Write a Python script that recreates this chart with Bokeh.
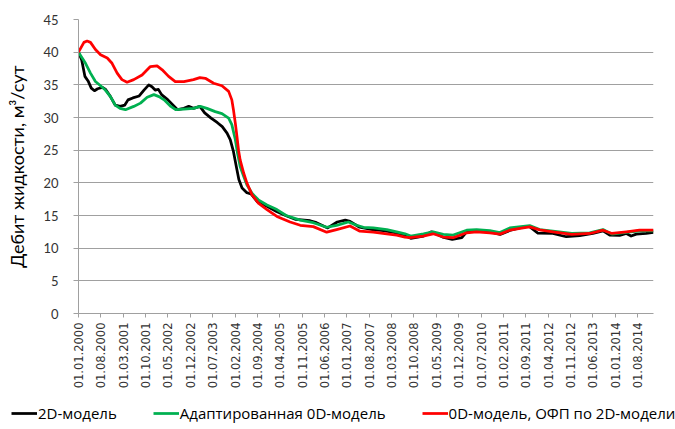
from math import pi
from bokeh.plotting import figure
from bokeh.layouts import column, row
from bokeh.models import Range1d, FixedTicker, Legend, LegendItem
from bokeh.embed import file_html
from bokeh.resources import INLINE

# ---- data (months since 01.01.2000) ----
tick_months = [0, 7, 14, 21, 28, 35, 42, 49, 56, 63, 70, 77, 84, 91, 98, 105,
               112, 119, 126, 133, 140, 147, 154, 161, 168, 175]
tick_labels = ["01.01.2000", "01.08.2000", "01.03.2001", "01.10.2001", "01.05.2002",
               "01.12.2002", "01.07.2003", "01.02.2004", "01.09.2004", "01.04.2005",
               "01.11.2005", "01.06.2006", "01.01.2007", "01.08.2007", "01.03.2008",
               "01.10.2008", "01.05.2009", "01.12.2009", "01.07.2010", "01.02.2011",
               "01.09.2011", "01.04.2012", "01.11.2012", "01.06.2013", "01.01.2014",
               "01.08.2014"]
y_ticks = [0, 5, 10, 15, 20, 25, 30, 35, 40, 45]

black_m = [0, 1, 2, 3, 4, 5, 6, 7.5, 8.5, 10, 11.5, 13, 14.5, 15.5, 17, 19, 20.5, 22,
           23, 24, 25, 26, 28, 30, 31, 33, 34.5, 36, 38, 39.5, 41.5, 43.5, 45, 46.5,
           47.5, 48.5, 49.4, 50.2, 51.2, 52.7, 54, 56, 59, 62, 65, 68, 72.5, 74.5, 78,
           81, 83.5, 85, 88, 92, 95.5, 99.5, 102, 104, 108, 110.5, 114, 117, 120,
           121.5, 124.5, 129, 132, 135, 139, 141, 143.8, 148.5, 152.7, 156.9, 161,
           164.2, 166.3, 169.4, 171.5, 173, 174.6, 177.7, 180]
black_v = [40.0, 38.8, 36.3, 35.6, 34.5, 34.1, 34.4, 34.6, 34.3, 33.2, 31.9, 31.7,
           31.9, 32.7, 33.0, 33.3, 34.2, 35.0, 34.7, 34.2, 34.3, 33.5, 32.7, 31.7,
           31.2, 31.4, 31.7, 31.4, 31.7, 30.7, 29.9, 29.2, 28.6, 27.6, 26.6, 24.8,
           22.5, 20.5, 19.2, 18.5, 18.3, 17.1, 16.4, 15.6, 14.95, 14.4, 14.2, 13.9,
           13.1, 14.0, 14.3, 14.1, 13.2, 12.85, 12.7, 12.35, 12.0, 11.5, 11.85, 12.5,
           11.7, 11.35, 11.6, 12.5, 12.7, 12.5, 12.1, 12.7, 13.2, 13.35, 12.3, 12.25,
           11.75, 11.9, 12.25, 12.65, 12.0, 11.95, 12.25, 11.85, 12.15, 12.25, 12.4]

green_m = [0, 2.2, 3.75, 5.3, 6.9, 8.4, 10, 11.5, 13, 14.7, 17.3, 19.4, 21.5, 23.6,
           25.2, 26.8, 28.9, 30.4, 33, 36, 38.1, 40.2, 42.8, 44.9, 47, 48, 49.1, 49.8,
           50.6, 51.7, 52.7, 54.3, 56.3, 59, 62.1, 65, 69.4, 73.5, 77.7, 80.8, 84.5,
           87.1, 89.2, 92.3, 96.5, 99.6, 102.2, 104, 108, 111, 114.2, 117.3, 121.5,
           124.6, 128.75, 131.9, 135, 139.2, 141.25, 144.4, 148.5, 154.4, 160, 164.2,
           167, 171.5, 175.6, 180]
green_v = [40.0, 38.3, 36.8, 35.5, 34.85, 34.2, 33.2, 31.9, 31.4, 31.2, 31.7, 32.2,
           33.1, 33.5, 33.2, 32.7, 31.7, 31.2, 31.3, 31.4, 31.7, 31.4, 30.9, 30.6,
           29.9, 28.9, 26.6, 24.5, 22.5, 21.0, 19.7, 18.4, 17.4, 16.6, 15.9, 15.0,
           14.3, 13.9, 13.2, 13.5, 14.0, 13.5, 13.2, 13.1, 12.85, 12.5, 12.2, 11.85,
           12.2, 12.5, 12.1, 12.0, 12.75, 12.85, 12.7, 12.4, 13.1, 13.35, 13.45,
           12.85, 12.6, 12.25, 12.35, 12.85, 12.15, 12.4, 12.65, 12.65]

red_m = [0, 1.7, 2.7, 3.75, 5.3, 6.9, 9, 10.5, 12.1, 13.6, 15.2, 17.3, 19.9, 22.5,
         24.6, 26.2, 28.2, 30.3, 33, 36, 38, 39.7, 42.3, 44.9, 47, 48, 48.5, 49.1,
         49.6, 50.1, 50.6, 51.7, 52.7, 54.3, 56.3, 59, 62.1, 66.25, 69.4, 73.5, 77.7,
         80.8, 85, 88.1, 92.3, 96.5, 99.6, 102.2, 103.75, 107.9, 111, 114.2, 117.3,
         121.5, 124.6, 128.75, 131.9, 135, 139.2, 141.25, 144.4, 148.5, 154.4, 160,
         164.2, 167, 171.5, 175.6, 180]
red_v = [40.0, 41.5, 41.7, 41.5, 40.4, 39.6, 39.1, 38.3, 36.8, 35.8, 35.4, 35.8,
         36.5, 37.8, 37.9, 37.3, 36.3, 35.5, 35.5, 35.8, 36.1, 36.0, 35.25, 34.85,
         34.0, 32.7, 31.2, 29.1, 27.1, 25.0, 23.5, 21.5, 20.0, 18.2, 16.9, 15.9,
         14.85, 14.0, 13.5, 13.3, 12.45, 12.85, 13.4, 12.6, 12.45, 12.2, 12.0, 11.7,
         11.6, 11.85, 12.2, 11.7, 11.6, 12.35, 12.5, 12.35, 12.15, 12.75, 13.1,
         13.25, 12.8, 12.5, 12.1, 12.25, 12.75, 12.25, 12.5, 12.75, 12.75]

names = ["2D-модель", "Адаптированная 0D-модель", "0D-модель, ОФП по 2D-модели"]
colors = ["#000000", "#00b050", "#ff0000"]
y_title = "Дебит жидкости, м³/сут"

# ---- main figure ----
p = figure(width=675, height=399, output_backend="svg", toolbar_location=None,
           x_range=Range1d(0, 180), y_range=Range1d(0, 45))
p.min_border_left = 78
p.min_border_top = 19
p.min_border_right = 22
p.min_border_bottom = 86
p.outline_line_color = None
p.background_fill_color = "white"

grid_col = "#a0a0a0"
p.xgrid.visible = False
p.ygrid.grid_line_color = grid_col
p.ygrid.grid_line_width = 1
p.ygrid.ticker = FixedTicker(ticks=y_ticks)

xa = p.xaxis[0]
xa.ticker = FixedTicker(ticks=tick_months)
xa.major_label_overrides = {m: l for m, l in zip(tick_months, tick_labels)}
xa.major_label_orientation = pi / 2
xa.major_label_text_font = "DejaVu Sans"
xa.major_label_text_font_size = "11.5px"
xa.major_label_text_color = "#333333"
xa.major_label_standoff = 5
xa.axis_line_color = grid_col
xa.major_tick_line_color = grid_col
xa.major_tick_in = 0
xa.major_tick_out = 4
xa.minor_tick_line_color = None

ya = p.yaxis[0]
ya.ticker = FixedTicker(ticks=y_ticks)
ya.major_label_text_font = "Lato"
ya.major_label_text_font_size = "13px"
ya.major_label_text_color = "#333333"
ya.major_label_standoff = 15
ya.axis_line_color = grid_col
ya.major_tick_line_color = grid_col
ya.major_tick_in = 0
ya.major_tick_out = 5
ya.minor_tick_line_color = None
ya.axis_label = y_title
ya.axis_label_text_font = "Lato"
ya.axis_label_text_font_size = "18px"
ya.axis_label_text_font_style = "normal"
ya.axis_label_text_color = "#000000"
ya.axis_label_standoff = 12

series = [(black_m, black_v), (green_m, green_v), (red_m, red_v)]
for (xm, yv), c in zip(series, colors):
    p.line(xm, yv, line_color=c, line_width=2.75, line_join="round")

# ---- legend strip (its own small figure; sample lines lie outside its range) ----
lg = figure(width=675, height=30, output_backend="svg", toolbar_location=None,
            x_range=Range1d(0, 1), y_range=Range1d(0, 1),
            x_axis_location=None, y_axis_location=None)
lg.min_border_left = 0
lg.min_border_right = 0
lg.min_border_top = 0
lg.min_border_bottom = 0
lg.outline_line_color = None
lg.xgrid.visible = False
lg.ygrid.visible = False
items = []
for n, c in zip(names, colors):
    r = lg.line([5, 6], [5, 6], line_color=c, line_width=2.75)
    items.append(LegendItem(label=n, renderers=[r]))

legend = Legend(items=items, orientation="horizontal", location=(11, 6))
legend.glyph_width = 26
legend.glyph_height = 16
legend.label_height = 16
legend.label_standoff = 1
legend.spacing = 36
legend.padding = 0
legend.margin = 0
legend.border_line_color = None
legend.background_fill_alpha = 0
legend.label_text_font = "Open Sans"
legend.label_text_font_size = "15px"
legend.label_text_color = "#000000"
lg.add_layout(legend, "center")

layout = column(p, row(lg, spacing=0), spacing=0)
open("out.html", "w").write(file_html(layout, INLINE))
